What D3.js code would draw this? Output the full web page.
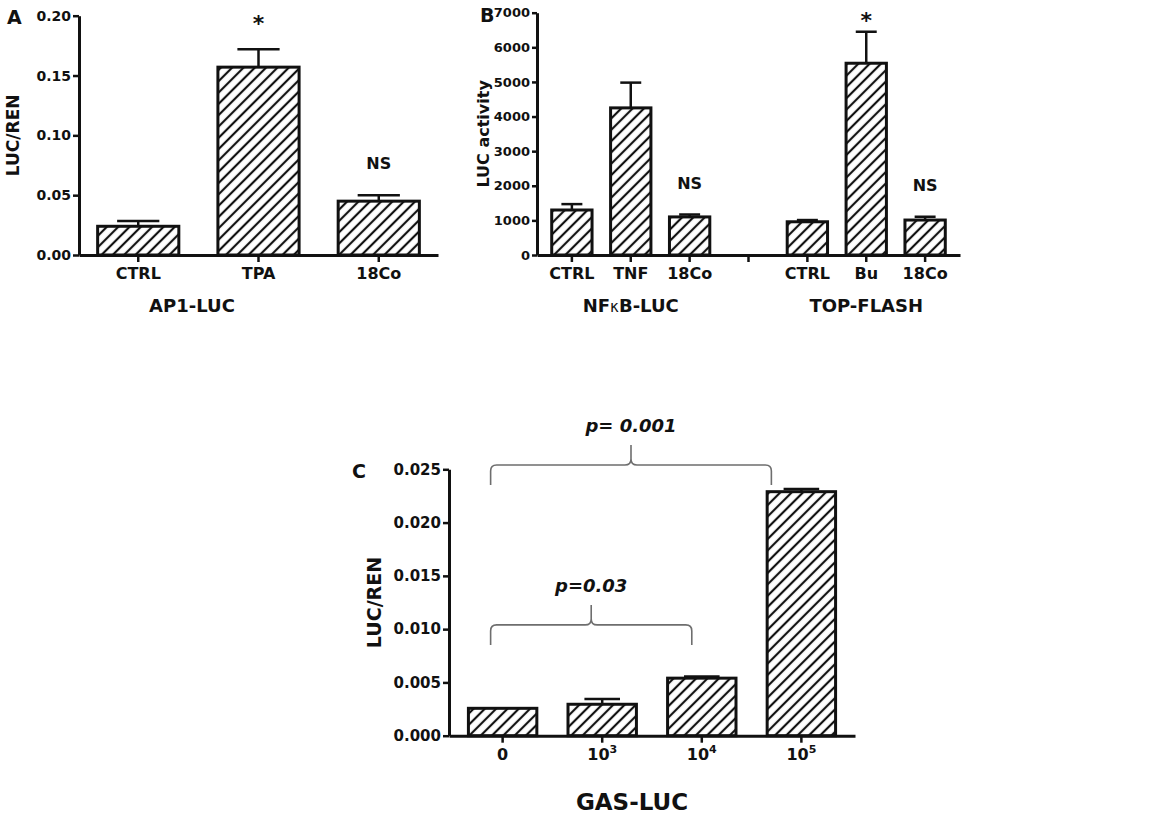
<!DOCTYPE html>
<html>
<head>
<meta charset="utf-8">
<script src="https://cdn.jsdelivr.net/npm/d3@7"></script>
<style>
  body { margin: 0; background: #fff; }
  svg text { font-family: "DejaVu Sans", sans-serif; font-weight: bold; fill: #111; }
</style>
</head>
<body>
<svg id="chart" width="1156" height="818"></svg>
<script>
// ---- data ----
// Panel A: AP1-LUC
const catsA = ['CTRL', 'TPA', '18Co'];
const meanA = [0.024, 0.157, 0.045];
const errA = [0.0045, 0.015, 0.005];
const ticksA = [0, 0.05, 0.10, 0.15, 0.20];
const marksA = ['', '*', 'NS'];

// Panel B: NFkB-LUC and TOP-FLASH (slot 3 is the empty gap)
const catsB = ['CTRL', 'TNF', '18Co', '', 'CTRL', 'Bu', '18Co'];
const meanB = [1300, 4250, 1100, null, 960, 5540, 1010];
const errB = [170, 730, 70, null, 50, 910, 95];
const ticksB = [0, 1000, 2000, 3000, 4000, 5000, 6000, 7000];
const marksB = ['', '', 'NS', '', '', '*', 'NS'];

// Panel C: GAS-LUC
const catsC = ['0', '3', '4', '5'];      // exponent of 10 ('0' = no cells)
const meanC = [0.00257, 0.00295, 0.0054, 0.0229];
const errC = [0, 0.0005, 0.00015, 0.00025];
const ticksC = [0, 0.005, 0.010, 0.015, 0.020, 0.025];
const pvalsC = [
  { from: '0', to: '5', text: 'p= 0.001', level: 0.0254 },
  { from: '0', to: '4', text: 'p=0.03', level: 0.0104 }
];

const svg = d3.select('#chart');

// hatch fill
svg.append('defs').append('pattern')
    .attr('id', 'hatch')
    .attr('patternUnits', 'userSpaceOnUse')
    .attr('width', 8)
    .attr('height', 8)
    .attr('patternTransform', 'rotate(45)')
  .append('line')
    .attr('x1', 4).attr('y1', 0)
    .attr('x2', 4).attr('y2', 8)
    .attr('stroke', '#111')
    .attr('stroke-width', 2.2);

// Draw one bar panel
function drawPanel(opt) {
    const g = svg.append('g');
    const keys = d3.range(opt.cats.length);

    const x = d3.scaleBand()
        .domain(keys)
        .range([opt.x0, opt.x1])
        .paddingInner(opt.padIn)
        .paddingOuter(opt.padOut);

    const y = d3.scaleLinear()
        .domain([0, d3.max(opt.ticks)])
        .range([opt.y0, opt.yTop]);

    // bars
    const rows = keys.filter(i => opt.mean[i] != null);
    g.selectAll('.bar')
        .data(rows)
        .enter().append('rect')
        .attr('x', i => x(i))
        .attr('y', i => y(opt.mean[i]))
        .attr('width', x.bandwidth())
        .attr('height', i => y(0) - y(opt.mean[i]))
        .attr('fill', 'url(#hatch)')
        .attr('stroke', '#111')
        .attr('stroke-width', 3);

    // upper error bars
    const cap = x.bandwidth() * 0.26;
    const eb = g.selectAll('.err')
        .data(rows.filter(i => opt.err[i] > 0))
        .enter().append('g');
    eb.append('line')
        .attr('x1', i => x(i) + x.bandwidth() / 2)
        .attr('x2', i => x(i) + x.bandwidth() / 2)
        .attr('y1', i => y(opt.mean[i]))
        .attr('y2', i => y(opt.mean[i] + opt.err[i]))
        .attr('stroke', '#111').attr('stroke-width', 2.5);
    eb.append('line')
        .attr('x1', i => x(i) + x.bandwidth() / 2 - cap)
        .attr('x2', i => x(i) + x.bandwidth() / 2 + cap)
        .attr('y1', i => y(opt.mean[i] + opt.err[i]))
        .attr('y2', i => y(opt.mean[i] + opt.err[i]))
        .attr('stroke', '#111').attr('stroke-width', 2.5);

    // significance marks: stars sit at the top of the plot, NS just above the error bar
    if (opt.marks) {
        g.selectAll('.mark')
            .data(rows.filter(i => opt.marks[i]))
            .enter().append('text')
            .attr('x', i => x(i) + x.bandwidth() / 2)
            .attr('y', i => opt.marks[i] === '*' ? opt.yTop + 15 : y(opt.mean[i] + opt.err[i]) - 26)
            .attr('text-anchor', 'middle')
            .attr('font-size', i => opt.marks[i] === '*' ? '22px' : '16px')
            .text(i => opt.marks[i]);
    }

    // y axis
    const ya = g.append('g')
        .attr('transform', `translate(${opt.x0},0)`)
        .call(d3.axisLeft(y).tickValues(opt.ticks).tickFormat(opt.yFmt).tickSize(opt.tickLen).tickSizeOuter(0));
    ya.selectAll('text').attr('font-size', opt.tickFont).attr('x', -opt.tickLen - 2).attr('fill', '#111');

    // x axis
    const xa = g.append('g')
        .attr('transform', `translate(0,${opt.y0})`)
        .call(d3.axisBottom(x).tickSize(7).tickSizeOuter(0).tickFormat(() => ''));
    xa.selectAll('.tick text').remove();
    xa.selectAll('.tick').each(function (i) {
        const t = d3.select(this).append('text')
            .attr('y', 24)
            .attr('text-anchor', 'middle')
            .attr('font-size', opt.catFont)
            .attr('fill', '#111');
        opt.catLabel(t, opt.cats[i]);
    });

    [ya, xa].forEach(a => {
        a.select('.domain').attr('stroke', '#111').attr('stroke-width', 3);
        a.selectAll('.tick line').attr('stroke', '#111').attr('stroke-width', 2.5);
    });

    // y axis title
    g.append('text')
        .attr('transform', `translate(${opt.yTitleX},${(opt.y0 + opt.yTop) / 2}) rotate(-90)`)
        .attr('text-anchor', 'middle')
        .attr('font-size', opt.yTitleFont)
        .text(opt.yTitle);

    // panel letter
    g.append('text')
        .attr('x', opt.letterX).attr('y', opt.letterY)
        .attr('font-size', '19px')
        .text(opt.letter);

    return { x, y, g };
}

const plainLabel = (t, s) => t.text(s);

// Panel A
const pa = drawPanel({
    cats: catsA, mean: meanA, err: errA, ticks: ticksA, marks: marksA,
    x0: 79, x1: 438, y0: 255, yTop: 15.7, padIn: 0.325, padOut: 0.155,
    yFmt: d3.format('.2f'), tickFont: '14px', tickLen: 6, catFont: '16px', catLabel: plainLabel,
    yTitle: 'LUC/REN', yTitleX: 19, yTitleFont: '17px',
    letter: 'A', letterX: 7, letterY: 24
});
pa.g.append('text')
    .attr('x', 192).attr('y', 312)
    .attr('text-anchor', 'middle').attr('font-size', '18px')
    .text('AP1-LUC');

// Panel B
const pb = drawPanel({
    cats: catsB, mean: meanB, err: errB, ticks: ticksB, marks: marksB,
    x0: 537, x1: 960, y0: 255, yTop: 12.7, padIn: 0.315, padOut: 0.25,
    yFmt: d3.format('d'), tickFont: '13px', tickLen: 5, catFont: '16px', catLabel: plainLabel,
    yTitle: 'LUC activity', yTitleX: 489, yTitleFont: '16px',
    letter: 'B', letterX: 480, letterY: 22
});
const nfkb = pb.g.append('text')
    .attr('x', pb.x(1) + pb.x.bandwidth() / 2).attr('y', 312)
    .attr('text-anchor', 'middle').attr('font-size', '18px');
nfkb.append('tspan').text('NF');
nfkb.append('tspan').attr('font-size', '15px').attr('font-weight', 'normal').text('κ');
nfkb.append('tspan').text('B-LUC');
pb.g.append('text')
    .attr('x', pb.x(5) + pb.x.bandwidth() / 2).attr('y', 312)
    .attr('text-anchor', 'middle').attr('font-size', '18px')
    .text('TOP-FLASH');

// Panel C
const powLabel = (t, s) => {
    if (s === '0') { t.text('0'); return; }
    t.append('tspan').text('10');
    t.append('tspan').attr('dy', -7).attr('font-size', '11px').text(s);
};
const pc = drawPanel({
    cats: catsC, mean: meanC, err: errC, ticks: ticksC,
    x0: 449, x1: 855, y0: 735.7, yTop: 469.3, padIn: 0.313, padOut: 0.195,
    yFmt: d3.format('.3f'), tickFont: '15px', tickLen: 6, catFont: '16px', catLabel: powLabel,
    yTitle: 'LUC/REN', yTitleX: 381, yTitleFont: '19px',
    letter: 'C', letterX: 352, letterY: 478
});
pc.g.append('text')
    .attr('x', 632).attr('y', 810)
    .attr('text-anchor', 'middle').attr('font-size', '23px')
    .text('GAS-LUC');

// p-value braces
const braceOff = { '0': -12, '4': -10, '5': -30 };
pvalsC.forEach(p => {
    const ia = catsC.indexOf(p.from), ib = catsC.indexOf(p.to);
    const xa = pc.x(ia) + pc.x.bandwidth() / 2 + braceOff[p.from];
    const xb = pc.x(ib) + pc.x.bandwidth() / 2 + braceOff[p.to];
    const xm = (xa + xb) / 2;
    const yh = pc.y(p.level);
    const r = 6;
    const path = d3.path();
    path.moveTo(xa, yh + 20);
    path.lineTo(xa, yh + r);
    path.quadraticCurveTo(xa, yh, xa + r, yh);
    path.lineTo(xm - r, yh);
    path.quadraticCurveTo(xm, yh, xm, yh - r);
    path.lineTo(xm, yh - 20);
    path.moveTo(xm, yh - r);
    path.quadraticCurveTo(xm, yh, xm + r, yh);
    path.lineTo(xb - r, yh);
    path.quadraticCurveTo(xb, yh, xb, yh + r);
    path.lineTo(xb, yh + 20);
    pc.g.append('path')
        .attr('d', path.toString())
        .attr('fill', 'none')
        .attr('stroke', '#6e6e6e')
        .attr('stroke-width', 1.6);
    pc.g.append('text')
        .attr('x', xm).attr('y', yh - 33)
        .attr('text-anchor', 'middle')
        .attr('font-size', '18px')
        .attr('font-style', 'italic')
        .attr('fill', '#333')
        .text(p.text);
});
</script>
</body>
</html>
